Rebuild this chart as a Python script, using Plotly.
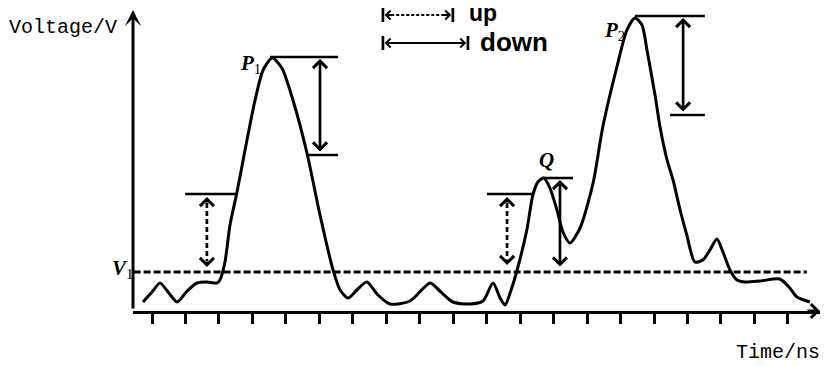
import plotly.graph_objects as go

# Sampled pulse waveform (time in tick units, voltage in arbitrary units)
time_ns = [0.73, 1.00, 1.24, 1.48, 1.75, 2.05, 2.34, 2.64, 2.94, 3.03, 3.18, 3.33,
           3.54, 3.78, 4.08, 4.32, 4.59, 4.88, 5.21, 5.63, 6.02, 6.41, 6.62, 6.86,
           7.12, 7.42, 7.75, 8.11, 8.71, 9.31, 9.60, 9.99, 10.50, 10.89, 11.19, 11.40,
           11.55, 11.73, 11.91, 12.20, 12.38, 12.53, 12.71, 12.89, 13.10, 13.28, 13.49,
           13.79, 14.18, 14.47, 14.89, 15.19, 15.43, 15.64, 15.79, 16.03, 16.18, 16.39,
           16.57, 16.78, 16.98, 17.22, 17.46, 17.67, 17.88, 18.06, 18.27, 18.48, 18.72,
           19.17, 19.76, 20.06, 20.27, 20.66]
voltage = [0.09, 0.19, 0.28, 0.19, 0.09, 0.20, 0.28, 0.29, 0.28, 0.31, 0.49, 0.86,
           1.19, 1.61, 2.11, 2.41, 2.53, 2.43, 2.11, 1.58, 0.96, 0.41, 0.21, 0.13,
           0.21, 0.29, 0.16, 0.07, 0.10, 0.28, 0.20, 0.09, 0.07, 0.10, 0.28, 0.13,
           0.06, 0.21, 0.41, 0.81, 1.16, 1.29, 1.33, 1.23, 1.01, 0.79, 0.68,
           0.83, 1.28, 1.84, 2.44, 2.81, 2.93, 2.86, 2.61, 2.16, 1.84, 1.51,
           1.31, 1.01, 0.76, 0.49, 0.51, 0.61, 0.72, 0.59, 0.41, 0.31, 0.29,
           0.30, 0.32, 0.23, 0.14, 0.09]

tick_times = list(range(1, 21))

# Characteristic levels
v1_level = 0.39        # V1 threshold
upper_level = 1.17     # upper trigger level
p1_peak = 2.53
p1_drop = 1.56
q_peak = 1.33
p2_peak = 2.95
p2_drop = 1.96

X_RANGE = [0.432, 20.96]
Y_RANGE = [0.0, 3.10]
PLOT_W, PLOT_H = 687, 310
INK = "black"

fig = go.Figure()

fig.add_trace(go.Scatter(
    x=time_ns, y=voltage, mode="lines",
    line=dict(color=INK, width=3, shape="spline", smoothing=0.7),
    hoverinfo="skip", showlegend=False,
))

shapes = []
annotations = []


def hline(x0, x1, y, dash="solid", width=2.5):
    shapes.append(dict(type="line", xref="x", yref="y", x0=x0, x1=x1, y0=y, y1=y,
                       line=dict(color=INK, width=width, dash=dash)))


def vline(x, y0, y1, dash="solid", width=2.5):
    shapes.append(dict(type="line", xref="x", yref="y", x0=x, x1=x, y0=y0, y1=y1,
                       line=dict(color=INK, width=width, dash=dash)))


def double_arrow_v(x, y_top, y_bot):
    annotations.append(dict(x=x, y=y_top, ax=x, ay=y_bot, xref="x", yref="y",
                            axref="x", ayref="y", text="", showarrow=True,
                            arrowside="end+start", arrowhead=4, arrowsize=1.0,
                            arrowwidth=2.7, arrowcolor=INK))


def dashed_arrow_v(x, y_top, y_bot):
    vline(x, y_top - 0.06, y_bot + 0.06, dash="5px,3px", width=2.7)
    annotations.append(dict(x=x, y=y_top, xref="x", yref="y", ax=0, ay=7,
                            text="", showarrow=True, arrowhead=4, arrowsize=1.0,
                            arrowwidth=2.7, arrowcolor=INK))
    annotations.append(dict(x=x, y=y_bot, xref="x", yref="y", ax=0, ay=-7,
                            text="", showarrow=True, arrowhead=4, arrowsize=1.0,
                            arrowwidth=2.7, arrowcolor=INK))


# V1 threshold
hline(0.45, 20.57, v1_level, dash="7px,3px", width=3)

# Upper trigger level and rising-edge margins
hline(1.99, 3.54, upper_level)
dashed_arrow_v(2.64, upper_level - 0.03, v1_level + 0.05)
hline(11.01, 12.38, upper_level)
dashed_arrow_v(11.61, upper_level - 0.03, v1_level + 0.07)

# P1 drop
hline(4.53, 6.56, p1_peak + 0.01)
hline(5.66, 6.56, p1_drop)
double_arrow_v(6.02, p1_peak - 0.01, p1_drop + 0.02)

# Q drop to V1
hline(12.65, 13.58, q_peak)
double_arrow_v(13.19, q_peak - 0.02, v1_level + 0.04)

# P2 drop
hline(15.43, 17.52, p2_peak)
hline(16.48, 17.52, p2_drop)
double_arrow_v(16.87, p2_peak - 0.02, p2_drop + 0.02)

# Key: dashed = up, solid = down
up_y, down_y = 2.96, 2.68
for xb in (7.90, 9.99):
    vline(xb, up_y - 0.07, up_y + 0.07, width=2.7)
for xb in (7.90, 10.44):
    vline(xb, down_y - 0.07, down_y + 0.07, width=2.7)
hline(8.0, 9.89, up_y, dash="3px,2px", width=2)
hline(8.0, 10.34, down_y, width=2)
for x_head, x_off in ((7.95, 9), (9.94, -9)):
    annotations.append(dict(x=x_head, y=up_y, xref="x", yref="y", ax=x_off, ay=0,
                            text="", showarrow=True, arrowhead=4, arrowsize=0.8,
                            arrowwidth=2.2, arrowcolor=INK))
for x_head, x_off in ((7.95, 9), (10.39, -9)):
    annotations.append(dict(x=x_head, y=down_y, xref="x", yref="y", ax=x_off, ay=0,
                            text="", showarrow=True, arrowhead=4, arrowsize=0.8,
                            arrowwidth=2.2, arrowcolor=INK))
annotations.append(dict(x=10.41, y=up_y + 0.02, xref="x", yref="y", text="<b>up</b>",
                        showarrow=False, xanchor="left", yanchor="middle",
                        font=dict(family="Liberation Sans", size=23, color=INK)))
annotations.append(dict(x=10.74, y=down_y + 0.01, xref="x", yref="y", text="<b>down</b>",
                        showarrow=False, xanchor="left", yanchor="middle",
                        font=dict(family="Liberation Sans", size=26, color=INK)))

# Peak labels
lab_font = dict(family="Liberation Serif", size=21, color=INK)
annotations.append(dict(x=4.31, y=2.47, xref="x", yref="y", text="<b><i>P</i></b><sub>1</sub>",
                        showarrow=False, xanchor="right", yanchor="middle", font=lab_font))
annotations.append(dict(x=12.80, y=1.51, xref="x", yref="y", text="<b><i>Q</i></b>",
                        showarrow=False, xanchor="center", yanchor="middle", font=lab_font))
annotations.append(dict(x=15.18, y=2.80, xref="x", yref="y", text="<b><i>P</i></b><sub>2</sub>",
                        showarrow=False, xanchor="right", yanchor="middle", font=lab_font))
annotations.append(dict(x=0, y=v1_level + 0.03, xref="paper", yref="y",
                        text="<b><i>V</i></b><sub>1</sub>", xshift=2,
                        showarrow=False, xanchor="right", yanchor="middle", font=lab_font))

# Vertical axis with arrowhead
annotations.append(dict(x=0, y=3.01, xref="paper", yref="y", ax=0, ay=300,
                        text="", showarrow=True, arrowhead=3, arrowsize=0.9,
                        arrowwidth=3, arrowcolor=INK))
# Horizontal axis arrowhead
annotations.append(dict(x=1, y=0, xref="paper", yref="y", ax=-14, ay=0,
                        text="", showarrow=True, arrowhead=4, arrowsize=0.9,
                        arrowwidth=3, arrowcolor=INK))

# Axis titles
axis_font = dict(family="Liberation Mono", size=20, color=INK)
annotations.append(dict(x=-126 / PLOT_W, y=(311 - 28) / PLOT_H, xref="paper", yref="paper",
                        text="Voltage/V", showarrow=False, xanchor="left",
                        yanchor="middle", font=axis_font))
annotations.append(dict(x=(822 - 133) / PLOT_W, y=(311 - 352) / PLOT_H, xref="paper",
                        yref="paper", text="Time/ns", showarrow=False, xanchor="right",
                        yanchor="middle", font=axis_font))

fig.update_layout(
    width=824, height=366,
    margin=dict(l=133, r=4, t=1, b=55),
    paper_bgcolor="white", plot_bgcolor="white",
    shapes=shapes, annotations=annotations,
    showlegend=False,
    xaxis=dict(range=X_RANGE, showgrid=False, zeroline=False, showline=True,
               linecolor=INK, linewidth=3, ticks="outside", ticklen=10, tickwidth=3,
               tickcolor=INK, tickvals=tick_times, showticklabels=False, fixedrange=True),
    yaxis=dict(range=Y_RANGE, showgrid=False, zeroline=False, showline=False,
               showticklabels=False, ticks="", fixedrange=True),
)

fig.write_html("out.html")
